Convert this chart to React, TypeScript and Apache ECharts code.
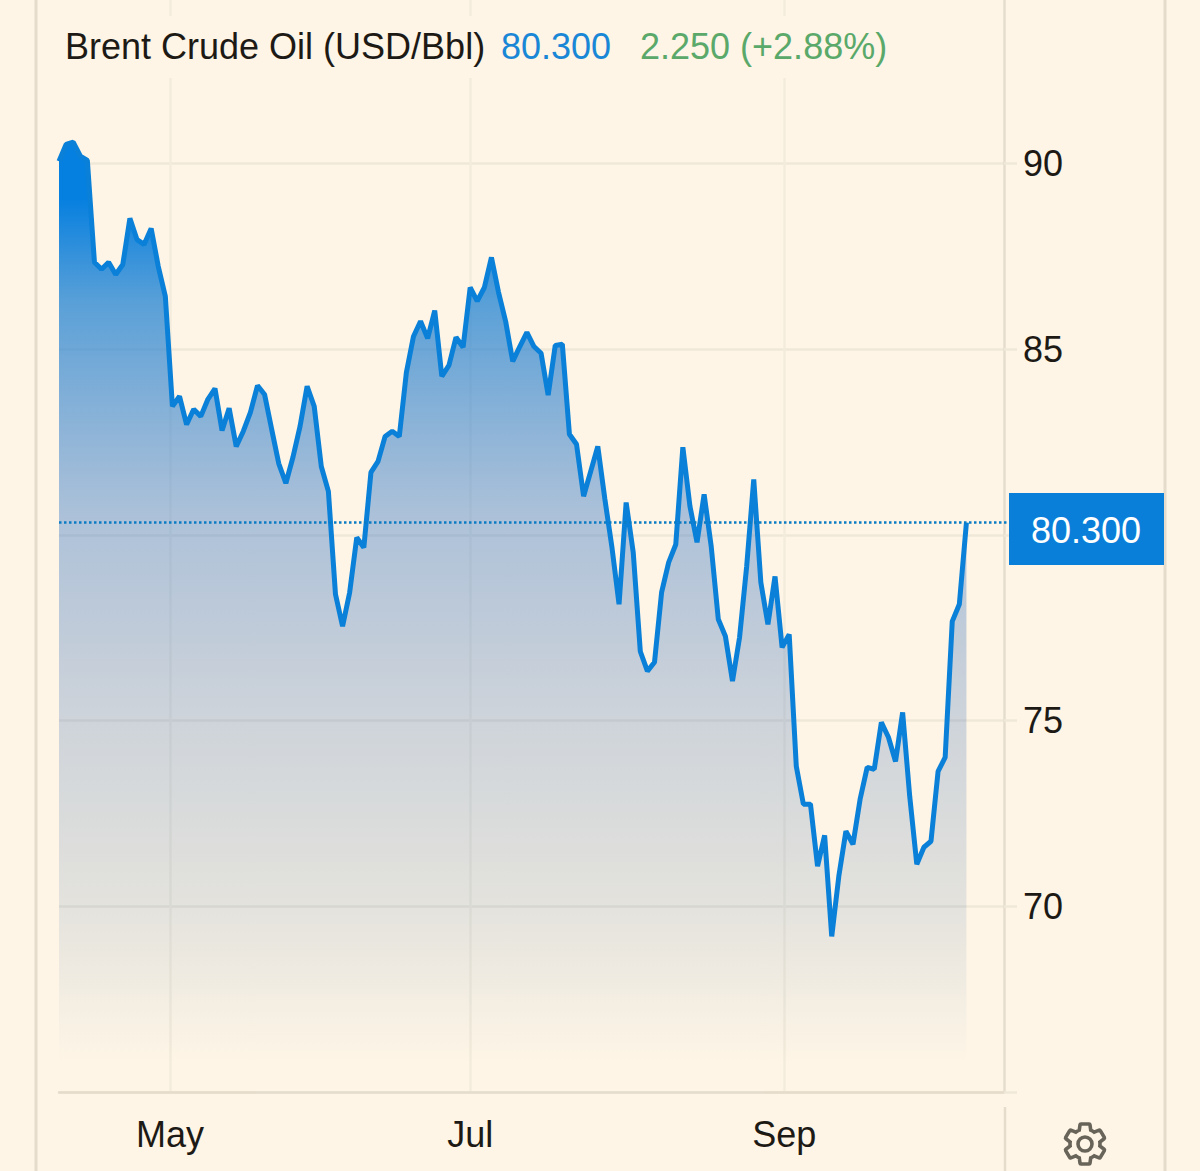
import React, { useEffect, useRef } from "react";
import * as echarts from "echarts";

const titleText = "Brent Crude Oil (USD/Bbl)";
const priceText = "80.300";
const changeText = "2.250 (+2.88%)";

const monthPositions = [15.65, 58, 102.3];
const monthLabels = ["May", "Jul", "Sep"];
const xEnd = 133.3;
const priceTicks = [65, 70, 75, 80, 85, 90];
const priceLabels = [70, 75, 85, 90];

const prices = [
  90.06, 90.51, 90.57, 90.2, 90.08, 87.34, 87.15, 87.34, 87.01, 87.28,
  88.52, 87.95, 87.82, 88.25, 87.23, 86.42, 83.46, 83.73, 82.97, 83.38,
  83.19, 83.65, 83.94, 82.81, 83.41, 82.38, 82.79, 83.3, 84.02, 83.78,
  82.84, 81.92, 81.39, 82.09, 82.92, 84.0, 83.46, 81.84, 81.17, 78.4,
  77.54, 78.45, 79.93, 79.66, 81.68, 81.98, 82.65, 82.79, 82.65, 84.37,
  85.34, 85.75, 85.29, 86.04, 84.27, 84.56, 85.32, 85.05, 86.66, 86.29,
  86.66, 87.47, 86.53, 85.75, 84.67, 85.07, 85.45, 85.07, 84.89, 83.76,
  85.1, 85.13, 82.71, 82.44, 81.04, 81.71, 82.38, 80.96, 79.66, 78.13,
  80.87, 79.53, 76.86, 76.33, 76.57, 78.45, 79.26, 79.74, 82.36, 80.77,
  79.8, 81.09, 79.69, 77.73, 77.27, 76.06, 77.24, 79.15, 81.49, 78.72,
  77.59, 78.88, 76.97, 77.32, 73.77, 72.75, 72.75, 71.08, 71.91, 69.19,
  70.81, 72.02, 71.67, 72.88, 73.74, 73.69, 74.95, 74.55, 73.9, 75.22,
  72.96, 71.13, 71.59, 71.75, 73.63, 74.01, 77.67, 78.13, 80.33,
];

const BG = "#fef5e6";
const GRID = "#efe7d7";
const FRAME = "#e5dccc";
const BLUE = "#0a80d8";
const FONT = "'Liberation Sans', Arial, sans-serif";
const GEAR =
  "M19.43 12.98c.04-.32.07-.64.07-.98 0-.34-.03-.66-.07-.98l2.11-1.65c.19-.15.24-.42.12-.64l-2-3.46c-.12-.22-.39-.3-.61-.22l-2.49 1c-.52-.4-1.08-.73-1.69-.98l-.38-2.65C14.46 2.18 14.25 2 14 2h-4c-.25 0-.46.18-.49.42l-.38 2.65c-.61.25-1.17.59-1.69.98l-2.49-1c-.23-.09-.49 0-.61.22l-2 3.46c-.13.22-.07.49.12.64l2.11 1.65c-.04.32-.07.65-.07.98s.03.66.07.98l-2.11 1.65c-.19.15-.24.42-.12.64l2 3.46c.12.22.39.3.61.22l2.49-1c.52.4 1.08.73 1.69.98l.38 2.65c.03.24.24.42.49.42h4c.25 0 .46-.18.49-.42l.38-2.65c.61-.25 1.17-.59 1.69-.98l2.49 1c.23.09.49 0 .61-.22l2-3.46c.12-.22.07-.49-.12-.64l-2.11-1.65zM12 15.5c-1.93 0-3.5-1.57-3.5-3.5s1.57-3.5 3.5-3.5 3.5 1.57 3.5 3.5-1.57 3.5-3.5 3.5z";

echarts.graphic.registerShape("gearIcon", echarts.graphic.extendPath(GEAR, {}) as any);

export default function App() {
  const ref = useRef<HTMLDivElement>(null);

  useEffect(() => {
    document.body.style.margin = "0";
    document.body.style.background = BG;
    const chart = echarts.init(ref.current!, null, { renderer: "svg" });
    const frameLine = (x: number, y1: number, y2: number, w: number) => ({
      type: "line",
      z: 40,
      silent: true,
      shape: { x1: x, y1, x2: x, y2 },
      style: { stroke: FRAME, lineWidth: w },
    });
    chart.setOption({
      animation: false,
      backgroundColor: BG,
      grid: { left: 59, right: 196, top: 0, bottom: 79 },
      xAxis: {
        type: "value",
        min: 0,
        max: xEnd,
        axisLine: { show: true, onZero: false, lineStyle: { color: FRAME, width: 2.5 } },
        axisTick: { show: false, customValues: monthPositions },
        splitLine: { show: true, lineStyle: { color: "#f3ebdb", width: 2.5 } },
        axisLabel: {
          customValues: monthPositions,
          formatter: (v: number) => monthLabels[monthPositions.indexOf(v)] ?? "",
          color: "#1d1a16",
          fontFamily: FONT,
          fontSize: 36,
          margin: 24,
          hideOverlap: false,
        },
      },
      yAxis: {
        type: "value",
        position: "right",
        min: 65,
        max: 94.4,
        axisLine: { show: true, onZero: false, lineStyle: { color: FRAME, width: 2.5 } },
        axisTick: { show: true, customValues: priceTicks, length: 13, lineStyle: { color: GRID, width: 2.5 } },
        splitLine: { show: true, lineStyle: { color: GRID, width: 2.5 } },
        axisLabel: {
          customValues: priceLabels,
          formatter: (v: number) => String(v),
          color: "#1d1a16",
          fontFamily: FONT,
          fontSize: 36,
          margin: 19,
        },
      },
      series: [
        {
          type: "line",
          data: prices.map((v, i) => [i, v]),
          showSymbol: false,
          symbol: "none",
          smooth: false,
          lineStyle: { color: BLUE, width: 5, join: "bevel" },
          areaStyle: {
            origin: "start",
            opacity: 1,
            color: {
              type: "linear",
              x: 0,
              y: 0,
              x2: 0,
              y2: 1,
              colorStops: [
                { offset: 0, color: "rgba(6,128,224,1)" },
                { offset: 0.06, color: "rgba(6,128,224,1)" },
                { offset: 0.17, color: "rgba(35,132,211,0.75)" },
                { offset: 0.4, color: "rgba(76,132,201,0.45)" },
                { offset: 0.6, color: "rgba(73,119,186,0.27)" },
                { offset: 0.8, color: "rgba(74,118,170,0.15)" },
                { offset: 0.97, color: "rgba(74,118,170,0)" },
              ],
            },
          },
          markLine: {
            silent: true,
            symbol: "none",
            label: { show: false },
            lineStyle: { color: "#0a7cc4", type: "dotted", width: 2.5 },
            data: [{ yAxis: prices[prices.length - 1] }],
          },
        },
      ],
      graphic: [
        { type: "rect", z: 30, silent: true, shape: { x: 40, y: 16, width: 960, height: 62 }, style: { fill: BG } },
        frameLine(36, 0, 1171, 3),
        frameLine(1165, 0, 1171, 3),
        frameLine(1005, 1107, 1171, 2.5),
        {
          type: "line", z: 40, silent: true,
          shape: { x1: 1004, y1: 522.5, x2: 1010, y2: 522.5 },
          style: { stroke: "#0a7cc4", lineWidth: 2.5, lineDash: [2.5, 2.5] },
        },
        {
          type: "text", z: 50, x: 65, y: 46,
          style: { text: titleText, fill: "#1d1a16", font: `36px ${FONT}`, textVerticalAlign: "middle" },
        },
        {
          type: "text", z: 50, x: 501, y: 46,
          style: { text: priceText, fill: "#1a87d6", font: `36px ${FONT}`, textVerticalAlign: "middle" },
        },
        {
          type: "text", z: 50, x: 640, y: 46,
          style: { text: changeText, fill: "#5aa96a", font: `36px ${FONT}`, textVerticalAlign: "middle" },
        },
        { type: "rect", z: 50, silent: true, shape: { x: 1009, y: 493, width: 155, height: 72 }, style: { fill: "#0a7fd9" } },
        {
          type: "text", z: 51, x: 1086, y: 530,
          style: { text: priceText, fill: "#ffffff", font: `36px ${FONT}`, textAlign: "center", textVerticalAlign: "middle" },
        },
        {
          type: "gearIcon", z: 50, silent: true, x: 1061, y: 1120, scaleX: 2, scaleY: 2,
          style: { fill: "none", stroke: "#69645a", lineWidth: 1.8 },
        },
      ],
    });
    return () => chart.dispose();
  }, []);

  return <div ref={ref} style={{ position: "absolute", left: 0, top: 0, width: 1200, height: 1171 }} />;
}
